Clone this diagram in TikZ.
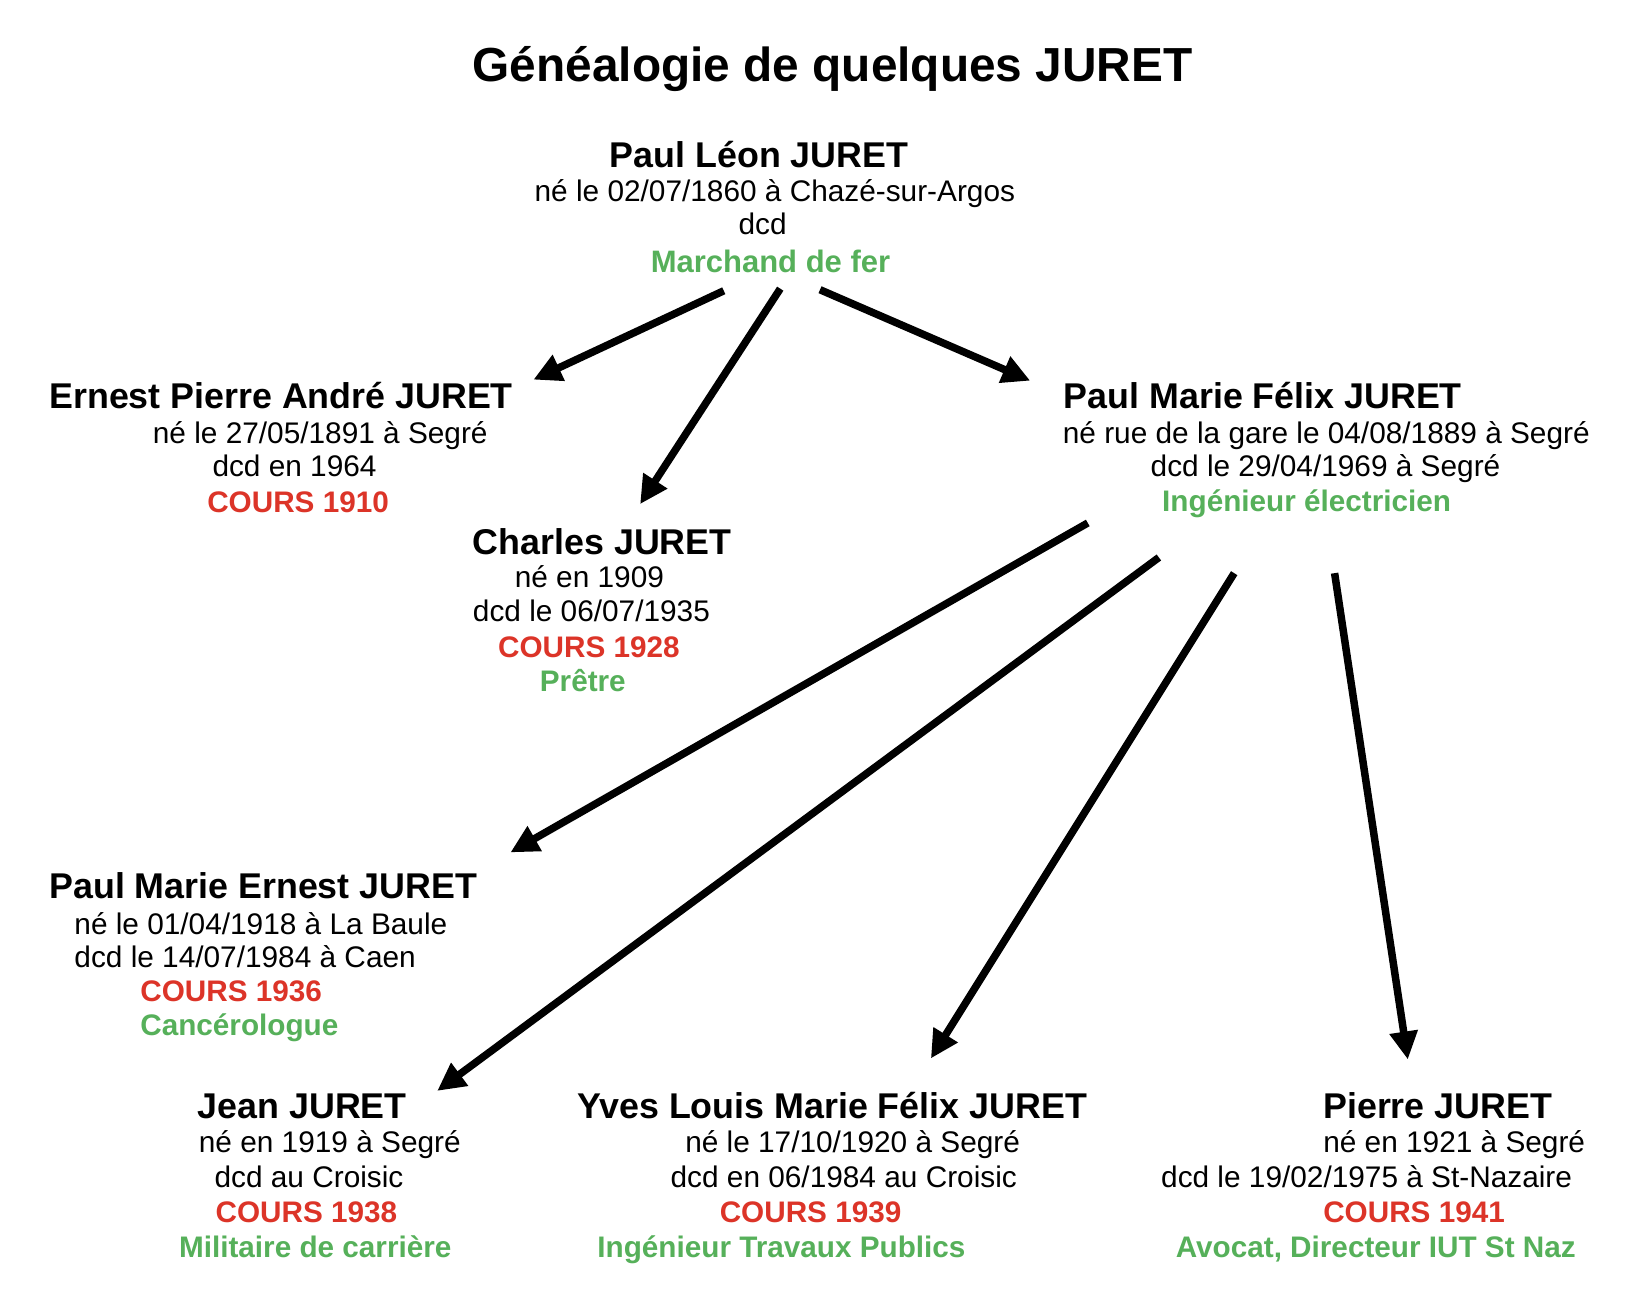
\documentclass[tikz,border=0pt]{standalone}
\usepackage{fontspec}
\setmainfont{Liberation Sans}
\usetikzlibrary{arrows.meta}
\definecolor{CoursRed}{RGB}{220,52,40}
\definecolor{MetierGreen}{RGB}{86,176,90}

\begin{document}
\begin{tikzpicture}[
		x=1.0459pt, y=-1.0459pt,
		ligne/.style={anchor=base west, inner sep=0pt},
		nom/.style={ligne, font=\fontsize{35.8}{40}\selectfont\bfseries},
		info/.style={ligne, font=\fontsize{29.8}{34}\selectfont},
		cours/.style={ligne, font=\fontsize{29.7}{34}\selectfont\bfseries, text=CoursRed},
		metier/.style={ligne, font=\fontsize{29.7}{34}\selectfont\bfseries, text=MetierGreen},
		fleche/.style={line width=7.5pt, -{Triangle[length=28pt,width=27pt]}}
		]
		\useasboundingbox (0,0) rectangle (1568,1243);
		
		% ===== titre =====
		\node[anchor=base, inner sep=0pt, font=\fontsize{47.8}{52}\selectfont\bfseries] (titre) at (796,78) {Généalogie de quelques JURET};
		
		% ===== Paul Léon =====
		\node[nom] (pl) at (583,160) {Paul Léon JURET};
		\node[info] (plne) at (511,193) {né le 02/07/1860 à Chazé-sur-Argos};
		\node[info] (pldcd) at (706,224) {dcd};
		\node[metier, font=\fontsize{31}{36}\selectfont\bfseries] (plmet) at (622,261) {Marchand de fer};
		
		% ===== Ernest Pierre André =====
		\node[nom] (ep) at (47,391) {Ernest Pierre André JURET};
		\node[info] (epne) at (146,424) {né le 27/05/1891 à Segré};
		\node[info] (epdcd) at (203,456) {dcd en 1964};
		\node[cours] (epcours) at (198,490) {COURS 1910};
		
		% ===== Charles =====
		\node[nom] (ch) at (452,530) {Charles JURET};
		\node[info] (chne) at (492,562) {né en 1909};
		\node[info] (chdcd) at (452,594) {dcd le 06/07/1935};
		\node[cours] (chcours) at (476,629) {COURS 1928};
		\node[metier] (chmet) at (516,661) {Prêtre};
		
		% ===== Paul Marie Félix =====
		\node[nom] (pmf) at (1017,391) {Paul Marie Félix JURET};
		\node[info] (pmfne) at (1016,424) {né rue de la gare le 04/08/1889 à Segré};
		\node[info] (pmfdcd) at (1100,456) {dcd le 29/04/1969 à Segré};
		\node[metier] (pmfmet) at (1111,489) {Ingénieur électricien};
		
		% ===== Paul Marie Ernest =====
		\node[nom] (pme) at (47,859) {Paul Marie Ernest JURET};
		\node[info] (pmene) at (71,893) {né le 01/04/1918 à La Baule};
		\node[info] (pmedcd) at (71,925) {dcd le 14/07/1984 à Caen};
		\node[cours] (pmecours) at (134,958) {COURS 1936};
		\node[metier] (pmemet) at (134,990) {Cancérologue};
		
		% ===== Jean =====
		\node[nom] (je) at (189,1069) {Jean JURET};
		\node[info] (jene) at (190,1102) {né en 1919 à Segré};
		\node[info] (jedcd) at (205,1135) {dcd au Croisic};
		\node[cours] (jecours) at (206,1169) {COURS 1938};
		\node[metier] (jemet) at (171,1202) {Militaire de carrière};
		
		% ===== Yves Louis Marie Félix =====
		\node[nom] (yv) at (552,1069) {Yves Louis Marie Félix JURET};
		\node[info] (yvne) at (655,1102) {né le 17/10/1920 à Segré};
		\node[info] (yvdcd) at (641,1135) {dcd en 06/1984 au Croisic};
		\node[cours] (yvcours) at (688,1169) {COURS 1939};
		\node[metier] (yvmet) at (571,1202) {Ingénieur Travaux Publics};
		
		% ===== Pierre =====
		\node[nom] (pi) at (1265,1069) {Pierre JURET};
		\node[info] (pine) at (1265,1102) {né en 1921 à Segré};
		\node[info] (pidcd) at (1110,1135) {dcd le 19/02/1975 à St-Nazaire};
		\node[cours] (picours) at (1265,1169) {COURS 1941};
		\node[metier] (pimet) at (1124,1202) {Avocat, Directeur IUT St Naz};
		
		% ===== points de départ et d'arrivée des flèches =====
		\coordinate (pl-a) at (692,278);  \coordinate (ep-in) at (510,363);
		\coordinate (pl-b) at (746,276);  \coordinate (ch-in) at (612,482);
		\coordinate (pl-c) at (784,277);  \coordinate (pmf-in) at (985,364);
		\coordinate (pmf-a) at (1040,500); \coordinate (pme-in) at (488,815);
		\coordinate (pmf-b) at (1108,533); \coordinate (je-in) at (418,1043);
		\coordinate (pmf-c) at (1180,548); \coordinate (yv-in) at (890,1012);
		\coordinate (pmf-d) at (1276,548); \coordinate (pi-in) at (1346,1013);
		
		% ===== flèches =====
		\foreach \a/\b in {pl-a/ep-in, pl-b/ch-in, pl-c/pmf-in, pmf-a/pme-in, pmf-b/je-in, pmf-c/yv-in, pmf-d/pi-in}
		\draw[fleche] (\a) -- (\b);
		
	\end{tikzpicture}
\end{document}
